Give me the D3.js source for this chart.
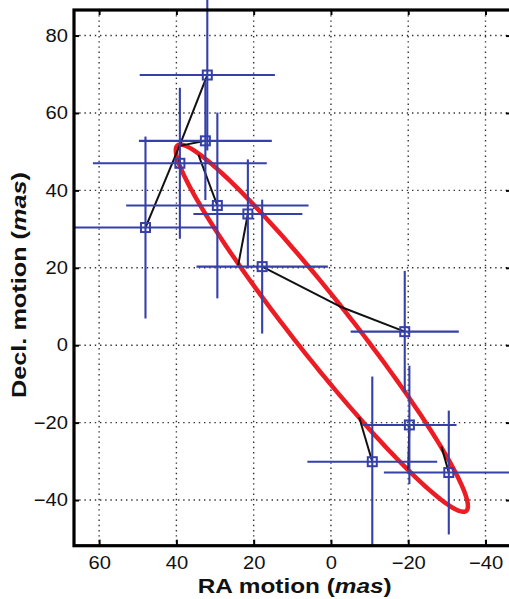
<!DOCTYPE html>
<html><head><meta charset="utf-8">
<script src="https://cdn.jsdelivr.net/npm/d3@7"></script>
<style>
body{margin:0;background:#fff;overflow:hidden;}
svg{display:block;}
text{font-family:"Liberation Sans",Arial,Helvetica,sans-serif;fill:#111;}
</style></head><body>
<svg id="chart" width="509" height="599"></svg>
<script>
// ---- data (mas) ----
const raMotion   = [32.0, 32.5, 39.1, 29.4, 21.5, 48.0, 17.8, -19.1, -20.3, -10.7, -30.5];
const raErr      = [17.5, 17.2, 22.5, 23.6, 14.1, 18.5, 17.0, 14.0, 12.2, 16.8, 16.8];
const declMotion = [69.8, 52.8, 47.0, 36.1, 33.9, 30.4, 20.3, 3.5, -20.6, -30.1, -32.9];
const declErr    = [19.5, 15.3, 19.5, 24.0, 14.1, 23.5, 17.3, 15.7, 15.3, 22.0, 16.0];
// model positions on the parallax ellipse at each epoch
const modelRA    = [39.2, 39.2, 39.3, 34.3, 24.0, 39.2, -2.8, -2.8, -20.0, -7.3, -28.6];
const modelDecl  = [51.5, 51.5, 48.3, 49.2, 20.7, 51.5, 9.8, 9.8, -32.2, -18.6, -26.2];
// fitted ellipse
const ellipseCenter = [2.35, 4.4];
const ellipseSemiMajor = 60.2;
const ellipseSemiMinor = 7.4;
const ellipseAngleDeg = 51.65;
// ticks
const xTicks = [60, 40, 20, 0, -20, -40];
const yTicks = [-40, -20, 0, 20, 40, 60, 80];
const xTitle = "RA motion (";
const yTitle = "Decl. motion (";
const unitLabel = "mas";

const svg = d3.select("#chart");
const L = 74, R = 511, T = 10, B = 545.7;
const x = d3.scaleLinear().domain([66.5, -46.6]).range([L, R]);
const y = d3.scaleLinear().domain([-51.8, 86.6]).range([B, T]);
const fmt = d => (d < 0 ? "\u2212" + Math.abs(d) : String(d));

// grid
const grid = svg.append("g").attr("stroke", "#333").attr("stroke-width", 1.4)
  .attr("stroke-dasharray", "1.4,3.8");
grid.selectAll("line.gx").data(xTicks).join("line").attr("class", "gx")
  .attr("x1", d => x(d)).attr("x2", d => x(d)).attr("y1", T).attr("y2", B);
grid.selectAll("line.gy").data(yTicks).join("line").attr("class", "gy")
  .attr("y1", d => y(d)).attr("y2", d => y(d)).attr("x1", L).attr("x2", R);

// ellipse
const ang = ellipseAngleDeg * Math.PI / 180;
const ellPts = d3.range(0, 361, 2).map(t => {
  const th = t * Math.PI / 180;
  const a = ellipseSemiMajor * Math.cos(th), b = ellipseSemiMinor * Math.sin(th);
  return [ellipseCenter[0] + a * Math.cos(ang) - b * Math.sin(ang),
          ellipseCenter[1] + a * Math.sin(ang) + b * Math.cos(ang)];
});
svg.append("path")
  .attr("d", d3.line().x(d => x(d[0])).y(d => y(d[1])).curve(d3.curveLinearClosed)(ellPts))
  .attr("fill", "none").attr("stroke", "#ec1c24").attr("stroke-width", 4.5);

// residual lines
const idx = d3.range(raMotion.length);
svg.append("g").selectAll("line").data(idx).join("line")
  .attr("x1", i => x(raMotion[i])).attr("y1", i => y(declMotion[i]))
  .attr("x2", i => x(modelRA[i])).attr("y2", i => y(modelDecl[i]))
  .attr("stroke", "#111").attr("stroke-width", 2);

// error bars
const blue = "#3540a8";
const eb = svg.append("g").attr("stroke", blue).attr("stroke-width", 2.1);
eb.selectAll("line.h").data(idx).join("line").attr("class", "h")
  .attr("x1", i => x(raMotion[i] + raErr[i])).attr("x2", i => x(raMotion[i] - raErr[i]))
  .attr("y1", i => y(declMotion[i])).attr("y2", i => y(declMotion[i]));
eb.selectAll("line.v").data(idx).join("line").attr("class", "v")
  .attr("x1", i => x(raMotion[i])).attr("x2", i => x(raMotion[i]))
  .attr("y1", i => y(declMotion[i] + declErr[i])).attr("y2", i => y(declMotion[i] - declErr[i]));
eb.selectAll("rect").data(idx).join("rect")
  .attr("x", i => x(raMotion[i]) - 4.5).attr("y", i => y(declMotion[i]) - 4.5)
  .attr("width", 9).attr("height", 9).attr("fill", "none").attr("stroke-width", 2);

// axes
function styleAxis(g) {
  g.select(".domain").remove();
  g.selectAll(".tick line").attr("stroke", "#000").attr("stroke-width", 2);
  g.selectAll(".tick text").attr("font-size", 18).attr("fill", "#111");
}
svg.append("g").attr("transform", `translate(0,${B})`)
  .call(d3.axisBottom(x).tickValues(xTicks).tickSize(-6).tickPadding(11).tickFormat(fmt))
  .call(styleAxis);
svg.append("g").attr("transform", `translate(0,${T})`)
  .call(d3.axisTop(x).tickValues(xTicks).tickSize(-5).tickFormat(""))
  .call(styleAxis);
svg.append("g").attr("transform", `translate(${L},0)`)
  .call(d3.axisLeft(y).tickValues(yTicks).tickSize(-5).tickPadding(6).tickFormat(fmt))
  .call(styleAxis);
svg.append("g").attr("transform", `translate(${R},0)`)
  .call(d3.axisRight(y).tickValues(yTicks).tickSize(-5).tickFormat(""))
  .call(styleAxis);
svg.selectAll(".tick text").each(function() {
  const w = this.getComputedTextLength();
  d3.select(this).attr("textLength", w * 1.12).attr("lengthAdjust", "spacingAndGlyphs");
});
svg.selectAll(".tick text").attr("font-family", "'Liberation Sans',Arial,sans-serif");

// frame
svg.append("rect").attr("x", L).attr("y", T).attr("width", R - L).attr("height", B - T)
  .attr("fill", "none").attr("stroke", "#000").attr("stroke-width", 3.2);

// titles
const xt = svg.append("text").attr("x", 294.7).attr("y", 593).attr("text-anchor", "middle")
  .attr("font-size", 21).attr("font-weight", "bold")
  .attr("textLength", 194).attr("lengthAdjust", "spacingAndGlyphs");
xt.append("tspan").text(xTitle);
xt.append("tspan").attr("font-style", "italic").text(unitLabel);
xt.append("tspan").text(")");

const yt = svg.append("text").attr("transform", "translate(26,285) rotate(-90)")
  .attr("text-anchor", "middle").attr("font-size", 21).attr("font-weight", "bold")
  .attr("textLength", 226).attr("lengthAdjust", "spacingAndGlyphs");
yt.append("tspan").text(yTitle);
yt.append("tspan").attr("font-style", "italic").text(unitLabel);
yt.append("tspan").text(")");
</script>
</body></html>
